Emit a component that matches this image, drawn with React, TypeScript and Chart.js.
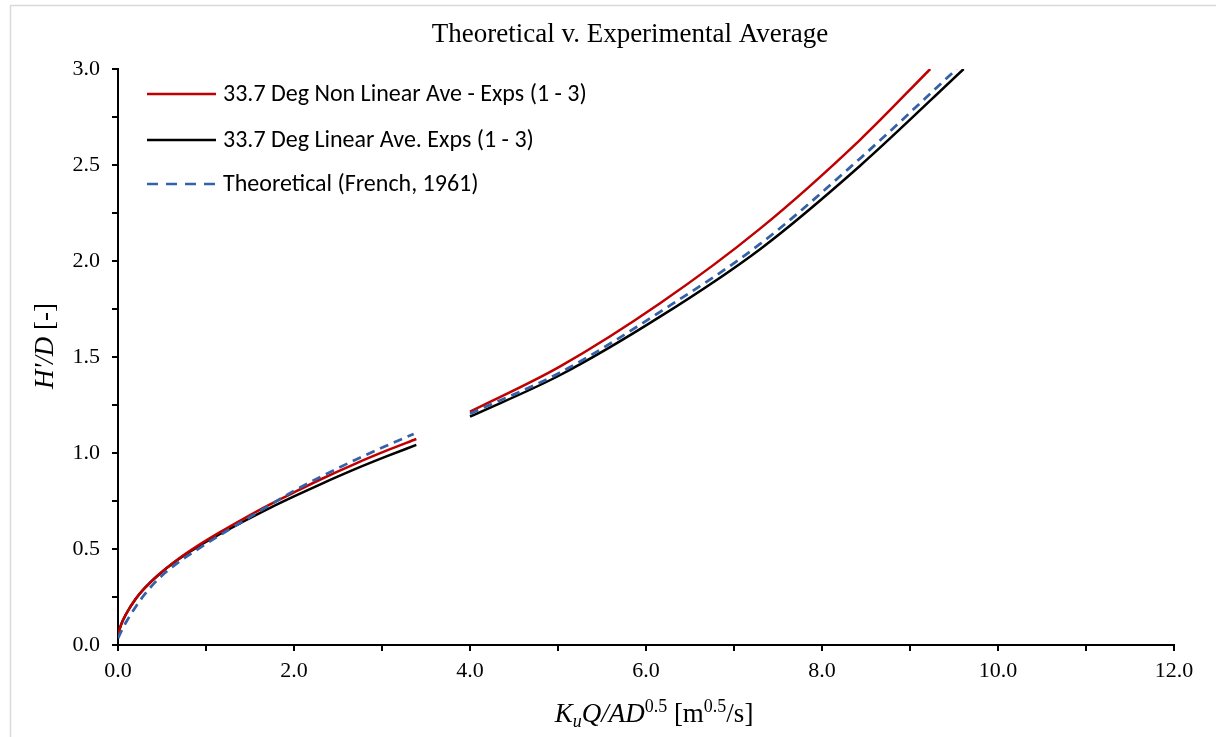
import React, { useEffect, useRef } from "react";
import { Chart, registerables } from "chart.js";

Chart.register(...registerables);

// ---- Data ----
const titleText = "Theoretical v. Experimental Average";
const seriesNames = [
  "33.7 Deg Non Linear Ave - Exps (1 - 3)",
  "33.7 Deg Linear Ave. Exps (1 - 3)",
  "Theoretical (French, 1961)",
];

// first segment (low flow)
const redX1 = [0, 0.03, 0.1, 0.2, 0.3, 0.45, 0.67, 0.9, 1.15, 1.42, 1.7, 2.0, 2.3, 2.7, 3.05, 3.39];
const redY1 = [0.05, 0.1, 0.168, 0.24, 0.295, 0.362, 0.443, 0.515, 0.585, 0.656, 0.726, 0.795, 0.862, 0.945, 1.012, 1.073];
const blackX1 = [0, 0.03, 0.1, 0.2, 0.3, 0.45, 0.67, 0.9, 1.15, 1.42, 1.7, 2.0, 2.3, 2.7, 3.05, 3.39];
const blackY1 = [0.05, 0.1, 0.168, 0.24, 0.295, 0.361, 0.441, 0.51, 0.576, 0.642, 0.708, 0.774, 0.837, 0.917, 0.982, 1.042];
const blueX1 = [0, 0.03, 0.1, 0.2, 0.3, 0.45, 0.67, 0.9, 1.15, 1.42, 1.7, 2.0, 2.3, 2.7, 3.05, 3.36];
const blueY1 = [0.035, 0.065, 0.125, 0.198, 0.262, 0.34, 0.425, 0.497, 0.57, 0.645, 0.722, 0.803, 0.875, 0.965, 1.038, 1.099];

// second segment (high flow)
const redX2 = [4.0, 5.02, 6.16, 7.3, 8.43, 9.23];
const redY2 = [1.215, 1.45, 1.78, 2.17, 2.63, 3.0];
const blackX2 = [4.0, 5.02, 6.16, 7.3, 8.43, 9.61];
const blackY2 = [1.189, 1.405, 1.71, 2.063, 2.495, 3.0];
const blueX2 = [4.0, 5.02, 6.16, 7.3, 8.43, 9.53];
const blueY2 = [1.205, 1.418, 1.735, 2.09, 2.533, 3.0];

const xMin = 0, xMax = 12, xStep = 1;
const yMin = 0, yMax = 3, yStep = 0.25;

const colors = ["#C00000", "#000000", "#3462A8"];

const SERIF = '"Liberation Serif", "Times New Roman", serif';
const SANS = 'Carlito, Lato, "Open Sans", sans-serif';

function toPoints(xs1: number[], ys1: number[], xs2: number[], ys2: number[]) {
  const pts: { x: number; y: number | null }[] = [];
  xs1.forEach((x, i) => pts.push({ x, y: ys1[i] }));
  pts.push({ x: (xs1[xs1.length - 1] + xs2[0]) / 2, y: null });
  xs2.forEach((x, i) => pts.push({ x, y: ys2[i] }));
  return pts;
}

type Seg = { t: string; italic?: boolean; size: number; dy?: number };

function drawRich(ctx: CanvasRenderingContext2D, segs: Seg[], cx: number, cy: number) {
  let total = 0;
  const widths = segs.map((s) => {
    ctx.font = `${s.italic ? "italic " : ""}${s.size}px ${SERIF}`;
    const w = ctx.measureText(s.t).width;
    total += w;
    return w;
  });
  let x = cx - total / 2;
  ctx.textBaseline = "alphabetic";
  ctx.textAlign = "left";
  segs.forEach((s, i) => {
    ctx.font = `${s.italic ? "italic " : ""}${s.size}px ${SERIF}`;
    ctx.fillText(s.t, x, cy + (s.dy || 0));
    x += widths[i];
  });
}

const decorPlugin = {
  id: "decor",
  beforeDraw(chart: any) {
    const ctx = chart.ctx as CanvasRenderingContext2D;
    ctx.save();
    ctx.fillStyle = "#ffffff";
    ctx.fillRect(0, 0, chart.width, chart.height);
    ctx.strokeStyle = "#D9D9D9";
    ctx.lineWidth = 1.5;
    ctx.strokeRect(10.5, 5.5, chart.width + 50, chart.height + 50);
    ctx.restore();
  },
  afterDraw(chart: any) {
    const ctx = chart.ctx as CanvasRenderingContext2D;
    const area = chart.chartArea;
    ctx.save();
    ctx.fillStyle = "#000";
    // title
    ctx.font = `27px ${SERIF}`;
    ctx.textAlign = "center";
    ctx.textBaseline = "alphabetic";
    ctx.fillText(titleText, 630, 42);

    // x axis title
    drawRich(
      ctx,
      [
        { t: "K", italic: true, size: 27 },
        { t: "u", italic: true, size: 18, dy: 5 },
        { t: "Q/AD", italic: true, size: 27 },
        { t: "0.5", size: 18, dy: -10 },
        { t: " [m", size: 27 },
        { t: "0.5", size: 18, dy: -10 },
        { t: "/s]", size: 27 },
      ],
      (area.left + area.right) / 2 + 8,
      722
    );

    // y axis title
    ctx.save();
    ctx.translate(53, 346);
    ctx.rotate(-Math.PI / 2);
    drawRich(
      ctx,
      [
        { t: "H'/D", italic: true, size: 27 },
        { t: " [-]", size: 27 },
      ],
      0,
      0
    );
    ctx.restore();

    // legend
    const lx0 = 147, lx1 = 216, tx = 223;
    const ly = [94, 140, 184];
    seriesNames.forEach((name, i) => {
      ctx.beginPath();
      ctx.strokeStyle = colors[i];
      ctx.lineWidth = i === 2 ? 2.5 : 2.5;
      ctx.setLineDash(i === 2 ? [11, 8] : []);
      ctx.moveTo(lx0, ly[i]);
      ctx.lineTo(lx1, ly[i]);
      ctx.stroke();
      ctx.setLineDash([]);
      ctx.fillStyle = "#000";
      ctx.font = `24px ${SANS}`;
      ctx.textAlign = "left";
      ctx.textBaseline = "middle";
      ctx.fillText(name, tx, ly[i] + 1);
    });
    ctx.restore();
  },
};

export default function App() {
  const ref = useRef<HTMLCanvasElement | null>(null);

  useEffect(() => {
    document.body.style.margin = "0";
    const canvas = ref.current;
    if (!canvas) return;
    const mk = (i: number, pts: any[], dashed: boolean) => ({
      label: seriesNames[i],
      data: pts,
      showLine: true,
      borderColor: colors[i],
      backgroundColor: colors[i],
      borderWidth: dashed ? 2.75 : 2.5,
      borderDash: dashed ? [9, 6] : [],
      pointRadius: 0,
      pointHoverRadius: 0,
      cubicInterpolationMode: "monotone" as const,
      spanGaps: false,
      order: dashed ? 0 : i === 0 ? 1 : 2,
    });
    const chart = new Chart(canvas, {
      type: "scatter",
      data: {
        datasets: [
          mk(0, toPoints(redX1, redY1, redX2, redY2), false),
          mk(1, toPoints(blackX1, blackY1, blackX2, blackY2), false),
          mk(2, toPoints(blueX1, blueY1, blueX2, blueY2), true),
        ],
      },
      options: {
        responsive: false,
        animation: false,
        devicePixelRatio: 1,
        layout: { padding: { left: 0, top: 69, right: 42, bottom: 0 } },
        plugins: {
          legend: { display: false },
          title: { display: false },
          tooltip: { enabled: false },
        },
        scales: {
          x: {
            type: "linear",
            min: xMin,
            max: xMax,
            afterFit: (s: any) => {
              s.height = 92;
            },
            border: { display: true, color: "#000", width: 2 },
            grid: { drawOnChartArea: false, drawTicks: true, tickLength: 6, color: "#000", lineWidth: 2 },
            ticks: {
              stepSize: xStep,
              autoSkip: false,
              maxRotation: 0,
              padding: 7,
              color: "#000",
              font: { family: SERIF, size: 22 },
              callback: (v: any) => (Math.round(v) % 2 === 0 ? Number(v).toFixed(1) : ""),
            },
          },
          y: {
            type: "linear",
            min: yMin,
            max: yMax,
            afterFit: (s: any) => {
              s.width = 118;
            },
            border: { display: true, color: "#000", width: 2 },
            grid: { drawOnChartArea: false, drawTicks: true, tickLength: 6, color: "#000", lineWidth: 2 },
            ticks: {
              stepSize: yStep,
              autoSkip: false,
              padding: 12,
              color: "#000",
              font: { family: SERIF, size: 22 },
              callback: (v: any) =>
                Math.abs(v * 2 - Math.round(v * 2)) < 1e-9 ? Number(v).toFixed(1) : "",
            },
          },
        },
      },
      plugins: [decorPlugin],
    });
    return () => chart.destroy();
  }, []);

  return (
    <div style={{ position: "absolute", left: 0, top: 0, width: 1216, height: 737 }}>
      <canvas ref={ref} width={1216} height={737} style={{ display: "block" }} />
    </div>
  );
}
